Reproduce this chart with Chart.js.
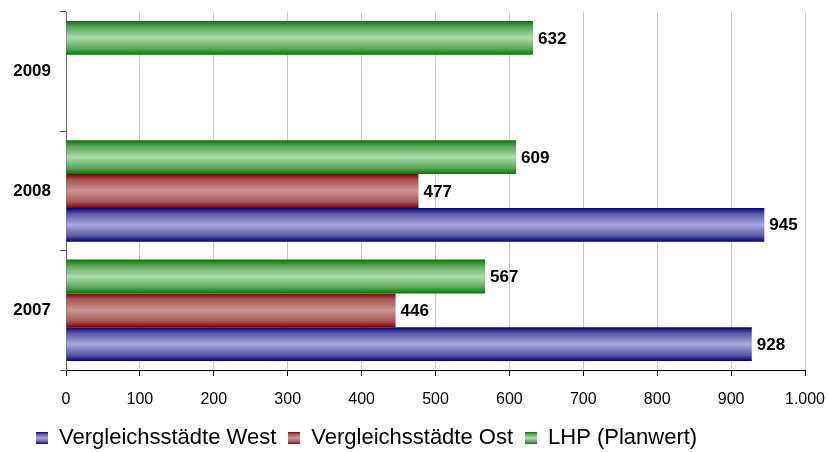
<!DOCTYPE html>
<html>
<head>
<meta charset="utf-8">
<script src="https://cdn.jsdelivr.net/npm/chart.js@4"></script>
<style>
  body { margin: 0; background: #fff; }
  #wrap { width: 829px; height: 452px; }
</style>
</head>
<body>
<div id="wrap"><canvas id="chart"></canvas></div>
<script>
const years = ["2009", "2008", "2007"];
const lhpValues = [632, 609, 567];
const ostValues = [null, 477, 446];
const westValues = [null, 945, 928];
const xTicks = [0, 100, 200, 300, 400, 500, 600, 700, 800, 900, 1000];

const FONT = "'Liberation Sans', Arial, sans-serif";
const CAT_PCT = 0.85;

// dark edge / light centre, like the old office bar fill
const shades = {
    lhp:  { dark: "#007800", mid: "#5aa65a", light: "#acdcac" },
    ost:  { dark: "#800000", mid: "#a85858", light: "#cc9494" },
    west: { dark: "#000080", mid: "#5a5aa6", light: "#a8a8dc" }
};

function addStops(g, s) {
    g.addColorStop(0, s.dark);
    g.addColorStop(0.18, s.mid);
    g.addColorStop(0.5, s.light);
    g.addColorStop(0.82, s.mid);
    g.addColorStop(1, s.dark);
    return g;
}

function barFill(key) {
    return function (c) {
        const chart = c.chart;
        const y = chart.scales.y;
        if (!chart.chartArea || !y || c.dataIndex === undefined) return shades[key].mid;
        const band = y.getPixelForValue(1) - y.getPixelForValue(0);
        const size = band * CAT_PCT / 3;
        const top = y.getPixelForValue(c.dataIndex) - band * CAT_PCT / 2 + c.datasetIndex * size;
        return addStops(chart.ctx.createLinearGradient(0, top, 0, top + size), shades[key]);
    };
}

function legendIcon(key) {
    const cv = document.createElement("canvas");
    cv.width = 12;
    cv.height = 12;
    const g = cv.getContext("2d");
    g.fillStyle = addStops(g.createLinearGradient(0, 0, 0, 12), shades[key]);
    g.fillRect(0, 0, 12, 12);
    return cv;
}
const icons = [legendIcon("lhp"), legendIcon("ost"), legendIcon("west")];

const valueLabels = {
    id: "valueLabels",
    afterDatasetsDraw(chart) {
        const ctx = chart.ctx;
        ctx.save();
        ctx.font = "bold 17px " + FONT;
        ctx.fillStyle = "#000";
        ctx.textAlign = "left";
        ctx.textBaseline = "middle";
        chart.data.datasets.forEach((ds, i) => {
            chart.getDatasetMeta(i).data.forEach((el, j) => {
                if (ds.data[j] == null) return;
                ctx.fillText(String(ds.data[j]), el.x + 5, el.y + 1);
            });
        });
        ctx.restore();
    }
};

// nudge the legend row to where the original sits
const legendShift = {
    id: "legendShift",
    afterLayout(chart) {
        chart.legend.left += 24;
        chart.legend.top += 7;
    }
};

new Chart(document.getElementById("chart"), {
    type: "bar",
    data: {
        labels: years,
        datasets: [
            { label: "LHP (Planwert)", data: lhpValues, backgroundColor: barFill("lhp") },
            { label: "Vergleichsstädte Ost", data: ostValues, backgroundColor: barFill("ost") },
            { label: "Vergleichsstädte West", data: westValues, backgroundColor: barFill("west") }
        ]
    },
    options: {
        indexAxis: "y",
        responsive: true,
        maintainAspectRatio: false,
        animation: false,
        datasets: { bar: { categoryPercentage: CAT_PCT, barPercentage: 1, borderWidth: 0 } },
        layout: { padding: { left: 0, right: 24, top: 12, bottom: 0 } },
        scales: {
            x: {
                min: 0,
                max: 1000,
                afterBuildTicks(scale) {
                    scale.ticks = xTicks.map(v => ({ value: v }));
                },
                afterFit(scale) {
                    scale.height = 38;
                    scale.paddingLeft = 0;
                    scale.paddingRight = 0;
                },
                grid: { color: "#c8c8c8", tickColor: "#000", tickLength: 6 },
                border: { color: "#000" },
                ticks: {
                    padding: 14,
                    color: "#000",
                    font: { family: FONT, size: 16 },
                    callback: v => v >= 1000 ? Math.floor(v / 1000) + "." + String(v % 1000).padStart(3, "0") : String(v)
                }
            },
            y: {
                afterFit(scale) {
                    scale.width = 66;
                    scale.paddingTop = 0;
                    scale.paddingBottom = 0;
                },
                grid: { drawOnChartArea: false, tickColor: "#555", tickLength: 6, offset: true },
                border: { color: "#666" },
                ticks: { padding: 9, color: "#000", font: { family: FONT, size: 17, weight: "bold" } }
            }
        },
        plugins: {
            tooltip: { enabled: false },
            legend: {
                position: "bottom",
                align: "start",
                reverse: true,
                labels: {
                    usePointStyle: true,
                    boxWidth: 12,
                    boxHeight: 12,
                    padding: 12,
                    color: "#000",
                    font: { family: FONT, size: 22 },
                    generateLabels(chart) {
                        const items = Chart.defaults.plugins.legend.labels.generateLabels(chart);
                        items.forEach(it => { it.pointStyle = icons[it.datasetIndex]; });
                        return items;
                    }
                }
            }
        }
    },
    plugins: [valueLabels, legendShift]
});
</script>
</body>
</html>
